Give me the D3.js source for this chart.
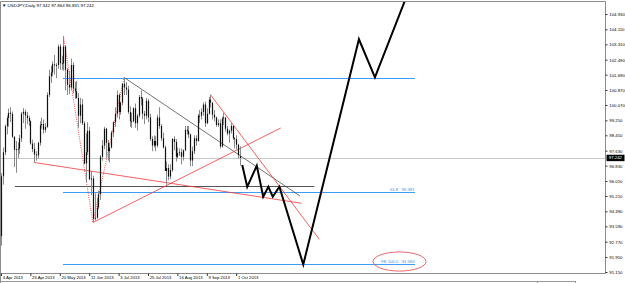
<!DOCTYPE html>
<html><head><meta charset="utf-8">
<script src="https://cdn.jsdelivr.net/npm/d3@7"></script>
<style>html,body{margin:0;padding:0;background:#fff;overflow:hidden}svg{display:block}</style>
</head><body><svg id="c" width="625" height="283"></svg>
<script>
// ---- data: USDJPY daily bars (date, open, high, low, close) ----
const dates = ["04-03","04-04","04-05","04-08","04-09","04-10","04-11","04-12","04-15","04-16","04-17","04-18","04-19","04-22","04-23","04-24","04-25","04-26","04-29","04-30","05-01","05-02","05-03","05-06","05-07","05-08","05-09","05-10","05-13","05-14","05-15","05-16","05-17","05-20","05-21","05-22","05-23","05-24","05-27","05-28","05-29","05-30","05-31","06-03","06-04","06-05","06-06","06-07","06-10","06-11","06-12","06-13","06-14","06-17","06-18","06-19","06-20","06-21","06-24","06-25","06-26","06-27","06-28","07-01","07-02","07-03","07-04","07-05","07-08","07-09","07-10","07-11","07-12","07-15","07-16","07-17","07-18","07-19","07-22","07-23","07-24","07-25","07-26","07-29","07-30","07-31","08-01","08-02","08-05","08-06","08-07","08-08","08-09","08-12","08-13","08-14","08-15","08-16","08-19","08-20","08-21","08-22","08-23","08-26","08-27","08-28","08-29","08-30","09-02","09-03","09-04","09-05","09-06","09-09","09-10","09-11","09-12","09-13","09-16","09-17","09-18","09-19","09-20","09-23","09-24","09-25","09-26","09-27","09-30","10-01","10-02","10-03"];
const open  = [93.39,93.06,96.26,97.55,98.93,99.38,99.66,99.59,98.38,97.68,97.70,97.73,98.30,99.60,99.71,99.51,99.38,99.20,98.01,97.72,97.43,97.37,98.05,98.99,99.05,98.75,98.90,100.60,101.60,101.80,102.25,102.20,102.20,103.20,102.30,102.28,103.20,101.95,101.15,101.00,102.20,100.95,100.80,100.45,99.50,100.10,99.10,96.95,97.55,98.70,96.10,96.15,94.00,94.05,94.60,95.30,97.30,97.90,98.80,98.05,97.60,97.80,98.60,99.15,99.60,100.60,99.70,100.20,101.20,101.00,100.90,99.70,99.20,99.20,99.90,99.10,99.50,100.50,100.40,99.60,99.50,100.30,99.40,98.25,97.90,98.15,97.90,99.40,98.95,98.30,97.80,96.55,96.70,96.25,96.60,98.25,98.10,97.30,97.50,97.55,97.30,97.65,98.75,98.70,98.50,97.10,97.60,98.30,98.15,99.50,99.50,99.70,100.10,99.10,99.60,100.35,100.20,99.55,99.40,99.00,99.10,97.85,99.35,99.40,98.80,98.55,98.70,98.95,98.30,98.25,97.95,97.34];
const high  = [93.54,96.43,97.80,99.03,99.50,99.88,99.95,99.72,98.40,98.15,98.07,98.48,99.70,99.90,99.83,99.70,99.50,99.26,98.22,98.05,97.60,98.10,99.20,99.40,99.30,99.10,100.75,101.95,102.15,102.40,102.74,102.30,103.30,103.32,102.70,103.74,103.25,102.05,101.90,102.55,102.35,101.30,101.35,100.70,100.45,100.40,99.20,98.55,99.15,98.90,96.55,96.30,95.35,95.10,95.50,97.40,98.20,98.90,98.85,98.20,98.05,98.70,99.20,99.95,100.85,100.70,100.25,101.25,101.54,101.30,101.10,100.00,99.65,99.95,100.15,99.60,100.60,100.85,100.50,99.75,100.45,100.40,99.60,98.40,98.45,98.40,99.55,99.95,99.05,98.60,97.90,97.05,96.90,96.90,98.30,98.40,98.25,97.80,97.75,97.75,97.70,98.95,98.95,98.95,98.55,97.85,98.45,98.45,99.60,99.80,99.90,100.20,100.25,99.90,100.50,100.62,100.20,99.80,99.45,99.30,99.30,99.45,99.65,99.40,98.95,98.75,99.10,99.00,98.35,98.45,98.00,97.86];
const low   = [92.80,92.56,95.82,97.40,98.50,98.91,99.16,98.30,96.75,96.45,97.25,97.45,98.10,99.10,98.80,99.05,98.95,97.95,97.55,97.00,97.10,97.20,97.90,98.80,98.55,98.60,98.85,100.50,101.25,101.60,101.70,101.50,102.00,101.95,101.95,101.90,100.85,100.60,100.65,100.85,100.70,100.40,100.40,98.85,99.10,99.00,96.90,95.95,97.40,96.05,95.25,93.79,93.90,94.00,94.50,95.00,97.10,97.70,97.25,97.10,97.00,97.75,98.35,98.90,99.40,99.30,99.55,100.05,100.60,100.60,99.60,98.90,98.85,99.15,98.85,98.70,99.40,100.05,99.30,99.05,99.30,99.15,98.15,97.60,97.80,97.60,97.80,98.80,98.15,97.75,96.55,95.81,96.05,96.10,96.50,97.65,97.05,97.20,97.35,96.90,97.10,97.60,98.50,98.30,96.80,96.80,97.45,97.90,98.10,99.10,99.30,99.50,98.90,99.05,99.55,99.95,99.30,99.20,98.90,98.90,97.75,97.80,99.00,98.65,98.45,98.05,98.55,98.20,97.75,97.70,97.20,96.83];
const close = [93.06,96.26,97.55,98.93,99.38,99.66,99.59,98.38,97.68,97.70,97.73,98.30,99.60,99.71,99.51,99.38,99.20,98.01,97.72,97.43,97.37,98.05,98.99,99.05,98.75,98.90,100.60,101.60,101.80,102.25,102.20,102.20,103.20,102.30,102.28,103.20,101.95,101.15,101.00,102.20,100.95,100.80,100.45,99.50,100.10,99.10,96.95,97.55,98.70,96.10,96.15,94.00,94.05,94.60,95.30,97.30,97.90,98.80,98.05,97.60,97.80,98.60,99.15,99.60,100.60,99.70,100.20,101.20,101.00,100.90,99.70,99.20,99.20,99.90,99.10,99.50,100.50,100.40,99.60,99.50,100.30,99.40,98.25,97.90,98.15,97.90,99.40,98.95,98.30,97.80,96.55,96.70,96.25,96.60,98.25,98.10,97.30,97.50,97.55,97.30,97.65,98.75,98.70,98.50,97.10,97.60,98.30,98.15,99.50,99.50,99.70,100.10,99.10,99.60,100.35,100.20,99.55,99.40,99.00,99.10,97.85,99.35,99.40,98.80,98.55,98.70,98.95,98.30,98.25,97.95,97.40,97.24];

// axis labels
const xTickDates  = ["04-04","04-26","05-20","06-11","07-03","07-25","08-16","09-09","10-01"];
const xTickLabels = ["4 Apr 2013","26 Apr 2013","20 May 2013","11 Jun 2013","3 Jul 2013","25 Jul 2013","16 Aug 2013","9 Sep 2013","1 Oct 2013"];
const yTicks = [104.930,104.110,103.310,102.490,101.690,100.870,100.070,99.250,98.450,97.630,96.830,96.010,95.210,94.390,93.590,92.770,91.950,91.150];
const title = "USDJPY,Daily  97.342 97.864 96.831 97.242";
const lastPrice = 97.242;

// chart objects, in (bar index from 4 Apr, price)
const fibLevels = [101.54, 95.381, 91.584];
const fibNames  = ["", "61.8", "FE 100.0"];
const fibSpan   = [34, 225.3];
const abcDotted = [[34,103.74],[50,93.79],[67,101.54]];
const trendBlack = [[67,101.54],[162.7,95.21]];
const redLines = [
  [[18,97.00],[163.6,94.82]],
  [[50,93.79],[152.2,98.84]],
  [[114,100.62],[173.2,92.90]]
];
const hLine = [[7.6,95.726],[170.5,95.726]];
const projection = [[131.3,96.86],[134.0,95.70],[139.2,96.83],[142.7,95.17],[145.5,95.70],[147.9,95.17],[151.5,95.70],[164.5,91.55],[194.8,103.58],[203.5,101.55],[221,105.94]];
const ellipseC = [216.9, 91.71], ellipseR = [14.4, 0.51];

// ---- drawing ----
const svg = d3.select("#c");
const W = 605, T = 1.5, B = 273.5;
const x = d3.scaleLinear().domain([0, 100]).range([1, 184.75]);
const y = d3.scaleLinear().domain([91.15, 104.93]).range([272, 14]);
const ys = p => Math.round(y(p)) + 0.5;          // crisp horizontal lines
const ysE = p => Math.round(y(p) / 2) * 2 + 0.5;  // crisp, even pixel row
const i0 = dates.indexOf("04-04");
const FONT = "'Liberation Sans', Arial, sans-serif";

svg.append("rect").attr("width",625).attr("height",283).attr("fill","#fff");
svg.append("clipPath").attr("id","clip").append("rect").attr("x",0).attr("y",T).attr("width",W).attr("height",B-T);
const g = svg.append("g").attr("clip-path","url(#clip)");
const line = d3.line().x(d=>x(d[0])).y(d=>y(d[1]));

// current price line
g.append("line").attr("x1",0).attr("x2",W).attr("y1",ys(lastPrice)).attr("y2",ys(lastPrice))
  .attr("stroke","#c8c8c8").attr("stroke-width",1);

// fib levels
fibLevels.forEach((p,k)=>{
  g.append("line").attr("x1",x(fibSpan[0])).attr("x2",x(fibSpan[1])).attr("y1",ysE(p)).attr("y2",ysE(p))
    .attr("stroke","#3d9df5").attr("stroke-width",1).attr("shape-rendering","crispEdges");
  if (fibNames[k]) {
    g.append("text").attr("x",x(fibSpan[1])-0.5).attr("y",ysE(p)-1.8).attr("text-anchor","end")
      .attr("font-family",FONT).attr("font-size",4.2).attr("fill","#3d8fe8")
      .text(fibNames[k] + "\u00a0\u00a0\u00a0" + d3.format(".3f")(p));
  }
});

// horizontal dark line
g.append("line").attr("x1",x(hLine[0][0])).attr("x2",x(hLine[1][0])).attr("y1",ys(hLine[0][1])).attr("y2",ys(hLine[1][1]))
  .attr("stroke","#555").attr("stroke-width",1);

// trendlines
g.append("path").attr("d",line(trendBlack)).attr("stroke","#505050").attr("stroke-width",0.8).attr("fill","none");
redLines.forEach(l=>g.append("path").attr("d",line(l)).attr("stroke","#f03838").attr("stroke-width",0.8).attr("fill","none"));
g.append("path").attr("d",line(abcDotted)).attr("stroke","#f03838").attr("stroke-width",0.9)
  .attr("stroke-dasharray","1,1.2").attr("fill","none");

// bars
const bars = g.append("g");
dates.forEach((d,k)=>{
  const xi = Math.round(x(k - i0)) + 0.5;
  bars.append("line").attr("x1",xi).attr("x2",xi).attr("y1",y(high[k])).attr("y2",y(low[k]))
    .attr("stroke","#8a8a8a").attr("stroke-width",1);
  const top = Math.min(y(open[k]),y(close[k])), bot = Math.max(y(open[k]),y(close[k]));
  bars.append("line").attr("x1",xi).attr("x2",xi).attr("y1",top).attr("y2",Math.max(bot,top+1))
    .attr("stroke","#111").attr("stroke-width",1.2);
});

// projection zigzag
g.append("path").attr("d",line(projection)).attr("stroke","#000").attr("stroke-width",2)
  .attr("stroke-linejoin","miter").attr("fill","none");

// ellipse
g.append("ellipse").attr("cx",x(ellipseC[0])).attr("cy",y(ellipseC[1]))
  .attr("rx",x(ellipseR[0])-x(0)).attr("ry",y(0)-y(ellipseR[1]))
  .attr("fill","none").attr("stroke","#e85460").attr("stroke-width",0.9);

// frame
svg.append("path").attr("d",`M0.5,283V${T}H${W+0.5}V${B}H0`).attr("fill","none").attr("stroke","#8c8c8c").attr("stroke-width",1);
svg.append("line").attr("x1",0).attr("x2",537).attr("y1",281.5).attr("y2",281.5).attr("stroke","#999");
svg.append("rect").attr("x",537.5).attr("y",281.5).attr("width",38).attr("height",4).attr("fill","#fff").attr("stroke","#999");

// title
svg.append("text").attr("x",2).attr("y",6.6).attr("font-family",FONT).attr("font-size",4.4).attr("fill","#000")
  .text("\u25BC " + title);

// y axis
const yAxis = svg.append("g").attr("transform",`translate(${W+0.5},0)`)
  .call(d3.axisRight(y).tickValues(yTicks).tickSize(2).tickPadding(1.8).tickFormat(d3.format(".3f")));
yAxis.select(".domain").remove();
yAxis.selectAll("text").attr("font-family",FONT).attr("font-size",4.3).attr("fill","#000");
yAxis.selectAll("line").attr("stroke","#000").attr("stroke-width",0.8);

// last price marker
const lp = svg.append("g").attr("transform",`translate(${W+1.5},${y(lastPrice)})`);
lp.append("rect").attr("x",0).attr("y",-3.2).attr("width",18).attr("height",6.4).attr("fill","#000");
lp.append("text").attr("x",2.3).attr("y",1.5).attr("font-family",FONT).attr("font-size",4.3).attr("fill","#fff")
  .text(d3.format(".3f")(lastPrice));

// x axis
const xAxis = svg.append("g").attr("transform",`translate(0,${B})`)
  .call(d3.axisBottom(x).tickValues(xTickDates.map(d=>dates.indexOf(d)-i0)).tickSize(2.5)
  .tickFormat((d,k)=>xTickLabels[k]));
xAxis.select(".domain").remove();
xAxis.selectAll("line").attr("stroke","#000").attr("stroke-width",0.8);
xAxis.selectAll("text").attr("font-family",FONT).attr("font-size",4.2).attr("fill","#000")
  .attr("text-anchor","start").attr("x",1.2).attr("y",5.8).attr("dy",0);
</script></body></html>
